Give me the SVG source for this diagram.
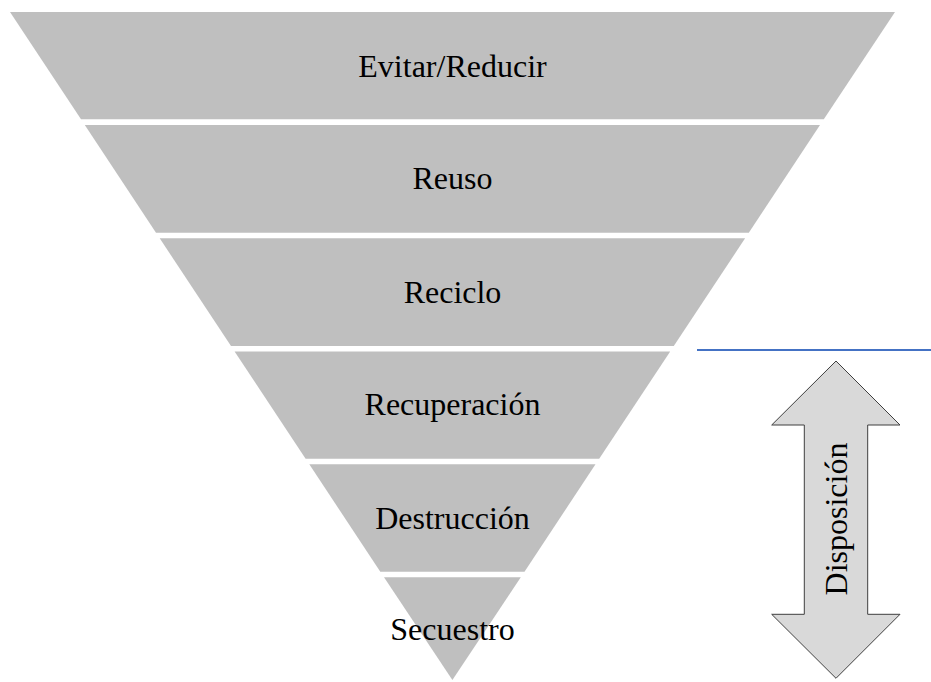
<svg xmlns="http://www.w3.org/2000/svg" width="931" height="682" viewBox="0 0 931 682">
<style>
.band{fill:#BFBFBF;}
.lbl{font-family:"Liberation Serif","Times New Roman",serif;font-size:32px;fill:#000;text-anchor:middle;}
.arrow{fill:#D9D9D9;stroke:#3F3F3F;stroke-width:1;}
</style>
<rect width="931" height="682" fill="#FFFFFF"/>
<g id="band-evitar">
<polygon class="band" points="10,12 895,12 823.8,119.3 81,119.3"/>
<text class="lbl" x="452.5" y="76.5">Evitar/Reducir</text>
</g>
<g id="band-reuso">
<polygon class="band" points="84.8,125 820,125 748.8,232.7 156,232.7"/>
<text class="lbl" x="452.5" y="189">Reuso</text>
</g>
<g id="band-reciclo">
<polygon class="band" points="159.7,238.3 745.1,238.3 673.8,346 231,346"/>
<text class="lbl" x="452.5" y="302.5">Reciclo</text>
</g>
<g id="band-recuperacion">
<polygon class="band" points="234.6,351.5 670.2,351.5 599.2,458.7 305.6,458.7"/>
<text class="lbl" x="452.5" y="415">Recuperación</text>
</g>
<g id="band-destruccion">
<polygon class="band" points="309.3,464.3 595.5,464.3 524.5,571.7 380.3,571.7"/>
<text class="lbl" x="452.5" y="528.5">Destrucción</text>
</g>
<g id="band-secuestro">
<polygon class="band" points="384,577.3 520.8,577.3 452.4,680"/>
<text class="lbl" x="452.5" y="640">Secuestro</text>
</g>
<g id="connectors">
<line x1="697" y1="350" x2="931" y2="350" stroke="#4472C4" stroke-width="2"/>
</g>
<g id="disposicion">
<polygon class="arrow" points="836,361 900,425 867.7,425 867.7,614.3 900,614.3 836,678.3 771.7,614.3 804.3,614.3 804.3,425 771.7,425"/>
<text class="lbl" transform="translate(846.7,519) rotate(-90)" x="0" y="0">Disposición</text>
</g>
</svg>
